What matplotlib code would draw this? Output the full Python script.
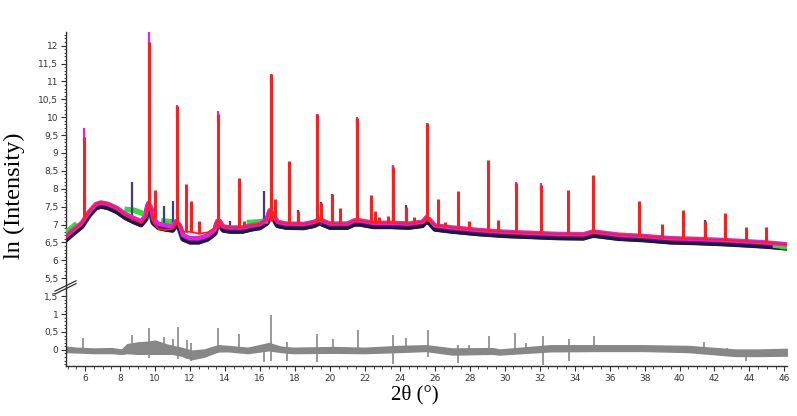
import numpy as np
import matplotlib
matplotlib.use("Agg")
import matplotlib.pyplot as plt
from matplotlib import transforms

# background of the pattern (upper panel)
bg_x = [4.9, 5.3, 5.8, 6.2, 6.6, 6.9, 7.3, 7.8, 8.3, 8.8, 9.2, 9.45, 9.6, 9.75, 9.9,
        10.2, 10.6, 11.0, 11.2, 11.4, 11.6, 12.0, 12.5, 13.0, 13.4, 13.55, 13.7, 13.9,
        14.3, 15.0, 15.5, 16.0, 16.4, 16.55, 16.75, 17.0, 17.5, 18.5, 19.1, 19.4, 20.0,
        21.0, 21.4, 21.7, 22.5, 23.5, 24.5, 25.3, 25.5, 25.7, 26.0, 27.0, 28.5, 30.0,
        31.5, 33.0, 34.5, 35.0, 35.2, 36.5, 38.0, 39.5, 41.0, 42.5, 44.0, 45.0, 46.15]
obs_bg = [6.68, 6.85, 7.05, 7.35, 7.57, 7.62, 7.58, 7.47, 7.30, 7.18, 7.10, 7.25, 7.6, 7.5, 7.15,
          7.02, 6.98, 6.95, 7.1, 7.0, 6.7, 6.62, 6.62, 6.7, 6.85, 7.1, 7.1, 6.95,
          6.92, 6.92, 6.98, 7.02, 7.15, 7.4, 7.3, 7.08, 7.03, 7.02, 7.08, 7.15, 7.03,
          7.03, 7.12, 7.12, 7.05, 7.05, 7.03, 7.08, 7.2, 7.15, 6.98, 6.92, 6.85, 6.8,
          6.77, 6.74, 6.73, 6.8, 6.8, 6.72, 6.68, 6.62, 6.6, 6.57, 6.53, 6.5, 6.45]
calc_bg = [6.66, 6.85, 7.05, 7.35, 7.57, 7.62, 7.58, 7.47, 7.28, 7.15, 7.05, 7.2, 7.6, 7.5, 7.05,
           6.88, 6.85, 6.88, 7.1, 7.0, 6.8, 6.8, 6.75, 6.78, 6.9, 7.1, 7.1, 6.95,
           6.92, 6.92, 6.98, 7.02, 7.15, 7.4, 7.3, 7.08, 7.03, 7.02, 7.08, 7.15, 7.03,
           7.03, 7.12, 7.12, 7.05, 7.05, 7.03, 7.08, 7.2, 7.15, 6.98, 6.92, 6.85, 6.8,
           6.77, 6.74, 6.73, 6.8, 6.8, 6.72, 6.68, 6.62, 6.6, 6.57, 6.53, 6.5, 6.45]

green_x = [4.9, 5.4, np.nan, 8.4, 8.8, 9.2, 9.35, np.nan, 10.5, 10.9, np.nan,
           15.4, 16.0, 16.3, np.nan, 45.5, 46.15]
green_y = [6.78, 6.98, np.nan, 7.42, 7.4, 7.33, 7.3, np.nan, 7.1, 7.08, np.nan,
           7.06, 7.08, 7.1, np.nan, 6.42, 6.38]

# calculated peaks: position, top, base
peak_x = [5.95, 9.64, 9.98, 11.26, 11.77, 12.06, 12.5, 13.6, 14.8, 15.1, 16.63, 16.85,
          17.66, 18.17, 19.26, 19.5, 20.1, 20.6, 21.54, 22.34, 22.6, 22.8, 23.3, 23.6,
          24.35, 24.8, 25.54, 26.2, 26.6, 27.3, 27.94, 29.03, 29.6, 30.63, 32.1, 33.6,
          35.03, 37.7, 38.97, 40.2, 41.43, 42.6, 43.8, 44.97]
peak_top = [9.45, 12.1, 7.97, 10.3, 8.14, 7.66, 7.1, 10.1, 8.3, 7.1, 11.2, 7.72,
            8.78, 7.39, 10.1, 7.6, 7.85, 7.47, 9.98, 7.83, 7.38, 7.2, 7.25, 8.6,
            7.5, 7.2, 9.84, 7.72, 7.08, 7.94, 7.1, 8.8, 7.13, 8.15, 8.12, 7.97,
            8.39, 7.66, 7.02, 7.41, 7.1, 7.33, 6.94, 6.94]
peak_base = [7.2, 7.4, 7.15, 7.0, 6.8, 6.8, 6.75, 6.9, 6.92, 6.92, 7.1, 7.2,
             7.05, 7.02, 7.08, 7.1, 7.03, 7.03, 7.1, 7.05, 7.05, 7.05, 7.05, 7.05,
             7.03, 7.03, 7.1, 6.97, 6.95, 6.92, 6.88, 6.82, 6.8, 6.78, 6.76, 6.74,
             6.78, 6.68, 6.64, 6.62, 6.6, 6.57, 6.53, 6.5]

# observed peak tips standing above the fit
tip_x = [5.95, 9.64, 11.26, 13.6, 16.63, 19.26, 21.54, 23.6, 25.54, 30.63, 32.1]
tip_top = [9.7, 12.4, 10.34, 10.17, 11.2, 10.1, 10.0, 8.67, 9.84, 8.2, 8.16]
tip_base = [9.3, 12.0, 10.0, 9.9, 10.9, 9.8, 9.7, 8.3, 9.5, 7.9, 7.9]

# observed-only small peaks (dark)
obs_peak_x = [8.69, 10.52, 11.03, 14.3, 16.2, 18.17, 19.5, 20.1, 23.6, 24.35, 41.43]
obs_peak_top = [8.19, 7.52, 7.66, 7.1, 7.94, 7.42, 7.62, 7.85, 8.67, 7.55, 7.12]
obs_peak_base = [7.1, 6.95, 6.9, 6.85, 6.95, 6.95, 7.0, 6.95, 6.95, 6.95, 6.55]

# difference curve (lower panel): band edges and spikes
diff_x = [4.9, 5.5, 6.5, 7.5, 8.1, 8.4, 9.0, 9.6, 10.0, 10.6, 11.0, 11.5, 12.1, 12.8,
          13.6, 14.2, 15.3, 16.5, 17.2, 17.9, 20.2, 22.0, 23.9, 25.5, 27.0, 29.3, 29.7,
          32.6, 35.4, 37.9, 40.5, 43.2, 44.5, 46.15]
diff_lo = [-0.05, -0.06, -0.08, -0.08, -0.1, -0.08, -0.1, -0.1, -0.1, -0.1, -0.1, -0.15,
           -0.25, -0.18, -0.03, -0.03, -0.08, 0.0, -0.05, -0.08, -0.07, -0.08, -0.05,
           -0.02, -0.12, -0.1, -0.12, -0.03, -0.02, -0.02, -0.05, -0.16, -0.16, -0.15]
diff_hi = [0.08, 0.05, 0.03, 0.04, 0.0, 0.15, 0.2, 0.22, 0.25, 0.15, 0.1, 0.05,
           -0.03, 0.0, 0.12, 0.1, 0.05, 0.18, 0.08, 0.05, 0.07, 0.05, 0.1,
           0.12, 0.03, 0.04, 0.0, 0.12, 0.12, 0.12, 0.1, 0.0, 0.0, 0.02]
spike_x = [5.9, 8.7, 9.66, 10.5, 11.0, 11.3, 11.8, 12.05, 13.6, 14.8, 16.2, 16.65,
           17.55, 19.27, 20.2, 21.6, 23.6, 24.35, 25.6, 27.3, 27.95, 29.1, 30.6, 31.2,
           32.2, 33.66, 35.1, 37.8, 41.4, 42.7, 43.8]
spike_lo = [-0.05, -0.1, -0.22, -0.1, -0.1, -0.25, -0.25, -0.3, -0.1, -0.1, -0.33, -0.3,
            -0.3, -0.35, -0.1, -0.05, -0.4, -0.05, -0.2, -0.36, -0.1, -0.05, -0.05, -0.05,
            -0.42, -0.3, -0.05, -0.05, -0.05, -0.15, -0.3]
spike_hi = [0.33, 0.42, 0.61, 0.36, 0.3, 0.65, 0.28, 0.2, 0.6, 0.45, 0.1, 0.98,
            0.22, 0.45, 0.3, 0.56, 0.42, 0.33, 0.56, 0.15, 0.15, 0.4, 0.47, 0.2,
            0.4, 0.3, 0.4, 0.15, 0.22, 0.05, 0.0]

bottom_ticks = [0, 0.5, 1, 1.5]
top_ticks = [5.5, 6, 6.5, 7, 7.5, 8, 8.5, 9, 9.5, 10, 10.5, 11, 11.5, 12]

SHIFT = 3.5  # upper panel value -> plotted height


def up(v):
    return np.asarray(v, dtype=float) - SHIFT


def lab(v):
    return ("%g" % v).replace(".", ",")


fig = plt.figure(figsize=(7.97, 4.16), dpi=100)
ax = fig.add_axes([66 / 797, 1 - 366 / 416, 721 / 797, 334 / 416])

red = "#ff1e1e"
mag = "#e61ee6"
dark = "#2e2e6e"
grey = "#878787"

# observed dark band, shifted a bit under the fit
shift_down = transforms.offset_copy(ax.transData, fig=fig, x=0, y=-3, units="dots")
ax.plot(bg_x, up(obs_bg), color=dark, lw=4.5, transform=shift_down, zorder=2)
shift_down2 = transforms.offset_copy(ax.transData, fig=fig, x=0, y=-5, units="dots")
ax.plot(bg_x, up(obs_bg), color="#1a1a3a", lw=2, transform=shift_down2, zorder=2)
ax.plot(green_x, up(green_y), color="#33dd33", lw=4, zorder=3)
ax.vlines(obs_peak_x, up(obs_peak_base), up(obs_peak_top), color="#3a3a90", lw=1.6, zorder=3)

ax.plot(bg_x, up(obs_bg), color=mag, lw=3.2, zorder=4)
ax.vlines(tip_x, up(tip_base), up(tip_top), color=mag, lw=1.6, zorder=4)
ax.vlines(peak_x, up(peak_base), up(peak_top), color=red, lw=2.2, zorder=5)
ax.plot(bg_x, up(calc_bg), color=red, lw=1.3, zorder=5)

# difference
ax.fill_between(diff_x, diff_lo, diff_hi, color=grey, lw=1.5, edgecolor=grey, zorder=2)
ax.vlines(spike_x, spike_lo, spike_hi, color=grey, lw=1.2, zorder=2)

ax.set_xlim(4.9, 46.15)
ax.set_ylim(-0.45, 8.88)

for s in ["top", "right"]:
    ax.spines[s].set_visible(False)
for s in ["left", "bottom"]:
    ax.spines[s].set_color("#303030")
    ax.spines[s].set_linewidth(1.0)

ax.set_xticks(np.arange(6, 47, 2))
ax.set_xticks(np.arange(5, 46.2, 0.5), minor=True)
ax.set_xticklabels([str(v) for v in range(6, 47, 2)])

yt = list(bottom_ticks) + list(up(top_ticks))
ax.set_yticks(yt)
ax.set_yticklabels([lab(v) for v in bottom_ticks] + [lab(v) for v in top_ticks])
minor = [m for m in np.arange(-0.4, 8.85, 0.1) if not (1.52 < m < 1.98)]
ax.set_yticks(minor, minor=True)

ax.tick_params(which="major", length=3.5, width=0.8, color="#303030",
               labelsize=6.5, labelcolor="#333333", pad=2)
ax.tick_params(which="minor", length=1.8, width=0.6, color="#303030")

# axis break marks
brk = transforms.blended_transform_factory(ax.transAxes, ax.transData)
ax.plot([-11 / 721, 10 / 721], [1.64, 1.93], color="#303030", lw=0.9,
        transform=brk, clip_on=False)
ax.plot([-11 / 721, 10 / 721], [1.56, 1.85], color="#303030", lw=0.9,
        transform=brk, clip_on=False)

fig.text(0.018, 0.53, "ln (Intensity)", rotation=90, ha="center", va="center",
         fontsize=17.5, family="Liberation Serif")
fig.text(0.52, 0.05, "2\u03b8 (\u00b0)", ha="center", va="center",
         fontsize=15, family="Liberation Serif")

fig.savefig("out.png", dpi=100)
